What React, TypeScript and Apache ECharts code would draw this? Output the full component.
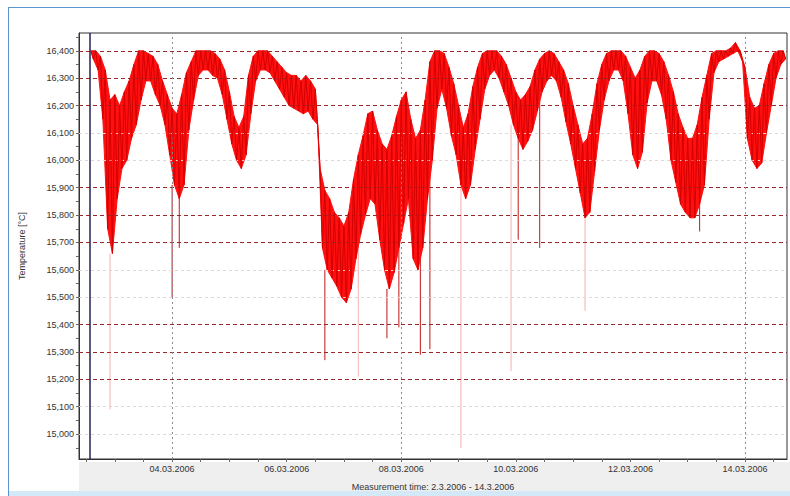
import React, { useEffect, useRef } from "react";
import * as echarts from "echarts";

// hours since 01.03.2006 00:00
const hours = [
  38, 40, 42, 44, 46, 48, 50, 52, 54, 56,
  58, 60, 62, 64, 66, 68, 70, 72, 74, 76,
  78, 80, 82, 84, 86, 88, 90, 92, 94, 96,
  98, 100, 102, 104, 106, 108, 110, 112, 114, 116,
  118, 120, 122, 124, 126, 128, 130, 132, 134, 136,
  138, 140, 142, 144, 146, 148, 150, 152, 154, 156,
  158, 160, 162, 164, 166, 168, 170, 172, 174, 176,
  178, 180, 182, 184, 186, 188, 190, 192, 194, 196,
  198, 200, 202, 204, 206, 208, 210, 212, 214, 216,
  218, 220, 222, 224, 226, 228, 230, 232, 234, 236,
  238, 240, 242, 244, 246, 248, 250, 252, 254, 256,
  258, 260, 262, 264, 266, 268, 270, 272, 274, 276,
  278, 280, 282, 284, 286, 288, 290, 292, 294, 296,
  298, 300, 302, 304, 306, 308, 310, 312, 314, 316,
  318, 320, 322, 324, 326, 328,
];

const upperTemp = [
  16.40, 16.40, 16.38, 16.33, 16.22, 16.24, 16.20, 16.25, 16.29, 16.35,
  16.40, 16.40, 16.39, 16.38, 16.35, 16.29, 16.24, 16.19, 16.17, 16.24,
  16.32, 16.36, 16.40, 16.40, 16.40, 16.40, 16.39, 16.37, 16.33, 16.25,
  16.16, 16.12, 16.16, 16.31, 16.38, 16.40, 16.40, 16.40, 16.38, 16.36,
  16.34, 16.32, 16.31, 16.31, 16.29, 16.31, 16.29, 16.26, 15.97, 15.89,
  15.86, 15.81, 15.79, 15.76, 15.81, 15.93, 16.02, 16.09, 16.17, 16.18,
  16.11, 16.06, 16.04, 16.09, 16.16, 16.22, 16.25, 16.15, 16.08, 16.11,
  16.22, 16.36, 16.40, 16.40, 16.39, 16.34, 16.28, 16.20, 16.12, 16.17,
  16.27, 16.34, 16.39, 16.40, 16.40, 16.40, 16.38, 16.35, 16.30, 16.25,
  16.22, 16.24, 16.27, 16.33, 16.37, 16.39, 16.40, 16.39, 16.36, 16.33,
  16.28, 16.20, 16.13, 16.06, 16.08, 16.17, 16.28, 16.35, 16.39, 16.40,
  16.40, 16.40, 16.38, 16.34, 16.30, 16.33, 16.38, 16.40, 16.40, 16.39,
  16.36, 16.31, 16.25, 16.17, 16.12, 16.08, 16.08, 16.13, 16.23, 16.31,
  16.39, 16.40, 16.40, 16.40, 16.41, 16.43, 16.40, 16.34, 16.23, 16.19,
  16.20, 16.28, 16.35, 16.39, 16.40, 16.40,
];

const lowerTemp = [
  16.37, 16.33, 16.15, 15.75, 15.66, 15.86, 15.97, 16.00, 16.08, 16.13,
  16.22, 16.29, 16.29, 16.24, 16.20, 16.13, 16.02, 15.91, 15.86, 15.91,
  16.11, 16.22, 16.31, 16.33, 16.33, 16.31, 16.30, 16.24, 16.15, 16.06,
  16.00, 15.97, 16.02, 16.17, 16.29, 16.33, 16.33, 16.32, 16.29, 16.26,
  16.23, 16.20, 16.19, 16.18, 16.17, 16.18, 16.15, 16.13, 15.68, 15.60,
  15.57, 15.54, 15.50, 15.48, 15.53, 15.64, 15.73, 15.80, 15.86, 15.84,
  15.71, 15.60, 15.53, 15.59, 15.68, 15.77, 15.86, 15.64, 15.60, 15.68,
  15.86, 16.00, 16.19, 16.26, 16.19, 16.09, 16.02, 15.91, 15.86, 15.91,
  16.04, 16.15, 16.26, 16.31, 16.33, 16.30, 16.25, 16.20, 16.13, 16.08,
  16.04, 16.07, 16.11, 16.18, 16.25, 16.29, 16.31, 16.29, 16.23, 16.14,
  16.06, 15.97, 15.88, 15.79, 15.81, 15.96, 16.11, 16.22, 16.29, 16.33,
  16.33, 16.29, 16.17, 16.02, 15.97, 16.03, 16.21, 16.29, 16.29, 16.24,
  16.15, 16.00, 15.92, 15.84, 15.81, 15.79, 15.79, 15.84, 15.91, 16.15,
  16.32, 16.36, 16.37, 16.38, 16.39, 16.40, 16.36, 16.08, 16.00, 15.97,
  15.99, 16.10, 16.20, 16.30, 16.35, 16.37,
];

// [hour, lowest temperature of the spike]
const darkSpikes = [
  [72, 15.50], [75, 15.68], [136, 15.27], [162, 15.35], [167, 15.39],
  [176, 15.29], [180, 15.31], [217, 15.71], [226, 15.68], [293, 15.74],
];
const faintSpikes = [
  [46, 15.09], [150, 15.21], [193, 14.95], [214, 15.23], [245, 15.45],
];

const yLabelValues = [15.0, 15.1, 15.2, 15.3, 15.4, 15.5, 15.6, 15.7, 15.8, 15.9, 16.0, 16.1, 16.2, 16.3, 16.4];
const yTickValues = [
  14.95, 15.0, 15.05, 15.1, 15.15, 15.2, 15.25, 15.3, 15.35, 15.4, 15.45, 15.5, 15.55, 15.6,
  15.65, 15.7, 15.75, 15.8, 15.85, 15.9, 15.95, 16.0, 16.05, 16.1, 16.15, 16.2, 16.25, 16.3,
  16.35, 16.4, 16.45,
];
const strongGridValues = [15.2, 15.3, 15.4, 15.7, 15.8, 15.9, 16.2, 16.3, 16.4];
const faintGridValues = [15.0, 15.1, 15.5, 15.6, 16.0, 16.1];

const xLabelHours = [72, 120, 168, 216, 264, 312];
const xTickHours = [
  36, 48, 60, 72, 84, 96, 108, 120, 132, 144, 156, 168, 180, 192, 204, 216, 228,
  240, 252, 264, 276, 288, 300, 312, 324,
];
const xGridHours = [72, 168, 312];
const startHour = 37.6;

function hourToDate(h: number): string {
  const day = Math.floor(h / 24) + 1;
  return (day < 10 ? "0" : "") + day + ".03.2006";
}

export default function App() {
  const ref = useRef<HTMLDivElement>(null);

  useEffect(() => {
    if (!ref.current) return;
    const chart = echarts.init(ref.current, undefined, { renderer: "svg" });

    const zigzag: number[][] = [];
    hours.forEach((h, i) => {
      zigzag.push([h, upperTemp[i]]);
      zigzag.push([h + 1, lowerTemp[i]]);
    });

    const nearestLower = (h: number) => {
      let best = 0;
      hours.forEach((hh, i) => {
        if (Math.abs(hh - h) < Math.abs(hours[best] - h)) best = i;
      });
      return lowerTemp[best];
    };
    const spikeData = (arr: number[][]) => {
      const out: any[] = [];
      arr.forEach(([h, t]) => {
        out.push([h, nearestLower(h)]);
        out.push([h, t]);
        out.push([h, "-"]);
      });
      return out;
    };

    const font = "Liberation Sans, Arial, sans-serif";

    chart.setOption({
      animation: false,
      backgroundColor: "#ffffff",
      graphic: [
        { type: "rect", z: -10, shape: { x: 79, y: 462, width: 711, height: 29 }, style: { fill: "#efefef" } },
        { type: "rect", z: -10, shape: { x: 8, y: 491, width: 782, height: 5 }, style: { fill: "#d3e9f7" } },
        { type: "line", z: 10, shape: { x1: 8.5, y1: 7, x2: 8.5, y2: 496 }, style: { stroke: "#5a96d2", lineWidth: 1 } },
        { type: "line", z: 10, shape: { x1: 8, y1: 7.5, x2: 790, y2: 7.5 }, style: { stroke: "#5a96d2", lineWidth: 1 } },
      ],
      grid: {
        left: 79,
        right: 3,
        top: 33,
        bottom: 35,
        show: true,
        backgroundColor: "#ffffff",
        borderColor: "#333333",
        borderWidth: 1,
      },
      xAxis: {
        type: "value",
        min: 33,
        max: 329.6,
        name: "Measurement time: 2.3.2006 - 14.3.2006",
        nameLocation: "middle",
        nameGap: 23,
        nameTextStyle: { fontSize: 9, color: "#333", fontFamily: font },
        axisLine: { show: true, lineStyle: { color: "#333" } },
        axisTick: { show: true, customValues: xTickHours, length: 3, lineStyle: { color: "#666" } },
        axisLabel: {
          customValues: xLabelHours,
          formatter: (v: number) => hourToDate(v),
          fontSize: 9,
          color: "#333",
          fontFamily: font,
          margin: 5,
        },
        splitLine: { show: false },
      },
      yAxis: {
        type: "value",
        min: 14.909,
        max: 16.465,
        name: "Temperature [°C]",
        nameLocation: "middle",
        nameRotate: 90,
        nameGap: 53,
        nameTextStyle: { fontSize: 9, color: "#333", fontFamily: font },
        axisLine: { show: true, lineStyle: { color: "#333" } },
        axisTick: { show: true, customValues: yTickValues, length: 3, lineStyle: { color: "#666" } },
        axisLabel: {
          customValues: yLabelValues,
          formatter: (v: number) => v.toFixed(3).replace(".", ","),
          fontSize: 9,
          color: "#333",
          fontFamily: font,
          margin: 5,
        },
        splitLine: { show: false },
      },
      series: [
        {
          type: "line",
          name: "gridlines",
          data: [],
          silent: true,
          z: 1,
          markLine: {
            silent: true,
            symbol: "none",
            label: { show: false },
            animation: false,
            data: [
              ...faintGridValues.map((v) => ({
                yAxis: v,
                lineStyle: { color: "#e3d6d6", type: [3, 3], width: 1 },
              })),
              ...strongGridValues.map((v) => ({
                yAxis: v,
                lineStyle: { color: "#9a2828", type: [4, 3], width: 1.2 },
              })),
              ...xGridHours.map((v) => ({
                xAxis: v,
                lineStyle: { color: "#8a8a8a", type: [2, 3], width: 1 },
              })),
            ],
          },
        },
        {
          type: "line",
          name: "faint spikes",
          data: spikeData(faintSpikes),
          showSymbol: false,
          silent: true,
          connectNulls: false,
          lineStyle: { color: "#f4b0b0", width: 1 },
          z: 3,
        },
        {
          type: "line",
          name: "dark spikes",
          data: spikeData(darkSpikes),
          showSymbol: false,
          silent: true,
          connectNulls: false,
          lineStyle: { color: "#c01818", width: 1 },
          z: 3,
        },
        {
          type: "custom",
          name: "band",
          data: [[hours[0], upperTemp[0]]],
          encode: { x: 0, y: 1 },
          silent: true,
          z: 4,
          renderItem: (_params: any, api: any) => {
            const pts: number[][] = [];
            hours.forEach((h, i) => pts.push(api.coord([h, upperTemp[i]])));
            for (let i = hours.length - 1; i >= 0; i--) {
              pts.push(api.coord([hours[i] + 1, lowerTemp[i]]));
            }
            return {
              type: "polygon",
              shape: { points: pts },
              style: { fill: "#ff1010", stroke: "#ff1010", lineWidth: 1 },
            };
          },
        },
        {
          type: "line",
          name: "Temperature",
          data: zigzag,
          showSymbol: false,
          silent: true,
          lineStyle: { color: "#d40000", width: 1 },
          z: 5,
        },
        {
          type: "line",
          name: "start marker",
          data: [],
          silent: true,
          z: 6,
          markLine: {
            silent: true,
            symbol: "none",
            label: { show: false },
            animation: false,
            data: [
              {
                xAxis: startHour,
                lineStyle: { color: "#22225e", type: "solid", width: 1.5 },
              },
            ],
          },
        },
      ],
    });

    return () => chart.dispose();
  }, []);

  return <div ref={ref} style={{ width: 790, height: 496, position: "absolute", left: 0, top: 0 }} />;
}
